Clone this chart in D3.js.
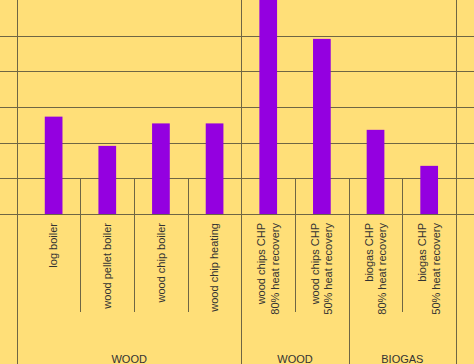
<!DOCTYPE html>
<html>
<head>
<meta charset="utf-8">
<script src="https://cdnjs.cloudflare.com/ajax/libs/d3/7.8.5/d3.min.js"></script>
<style>
  html, body { margin: 0; padding: 0; background: #ffdf78; }
  svg { display: block; }
  text { font-family: "Liberation Sans", Arial, sans-serif; fill: #333; }
</style>
</head>
<body>
<div class="chart"></div>
<script>
/* global d3 */
// category labels (each entry = lines of the rotated label)
const labels = [
  ["log boiler"],
  ["wood pellet boiler"],
  ["wood chip boiler"],
  ["wood chip heating"],
  ["wood chips CHP", "80% heat recovery"],
  ["wood chips CHP", "50% heat recovery"],
  ["biogas CHP", "80% heat recovery"],
  ["biogas CHP", "50% heat recovery"]
];
const values = [2.73, 1.91, 2.54, 2.54, 6.5, 4.91, 2.36, 1.35];
const groupNames = ["WOOD", "WOOD", "BIOGAS"];
const groupSizes = [4, 2, 2];
const yTicks = [0, 1, 2, 3, 4, 5];

const svgWidth = 474, svgHeight = 364;
const plotLeft = 17, baseY = 214;
const gridColor = "#6f6644";

const svg = d3.select(".chart").append("svg")
    .attr("width", svgWidth)
    .attr("height", svgHeight);

svg.append("rect")
    .attr("width", svgWidth).attr("height", svgHeight)
    .attr("fill", "#ffdf78");

const ids = labels.map((d, i) => i);
const x = d3.scaleBand().domain(ids).range([26.8, 456]);
const y = d3.scaleLinear().domain([0, 6]).range([baseY, 0]);

// horizontal grid lines
svg.append("g").selectAll("line")
    .data(yTicks)
    .enter().append("line")
    .attr("x1", 0).attr("x2", svgWidth)
    .attr("y1", d => Math.round(y(d)) + 0.5)
    .attr("y2", d => Math.round(y(d)) + 0.5)
    .attr("stroke", gridColor);

// bars
const barW = x.bandwidth() * 0.33;
svg.append("g").selectAll("rect")
    .data(values)
    .enter().append("rect")
    .attr("x", (d, i) => x(i) + (x.bandwidth() - barW) / 2)
    .attr("y", d => y(d))
    .attr("width", barW)
    .attr("height", d => baseY - y(d))
    .attr("fill", "#9400e0");

// group boundaries
let starts = [0];
groupSizes.forEach((n, i) => starts.push(starts[i] + n));
const edgeX = (k) => k === 0 ? plotLeft : x(k - 1) + x.bandwidth();

// category separators (inside groups)
const inner = [];
starts.slice(0, -1).forEach((s, g) => {
  for (let k = s + 1; k < s + groupSizes[g]; k++) inner.push(k);
});
svg.append("g").selectAll("line")
    .data(inner)
    .enter().append("line")
    .attr("x1", d => Math.round(x(d)) + 0.5)
    .attr("x2", d => Math.round(x(d)) + 0.5)
    .attr("y1", y(1)).attr("y2", 312)
    .attr("stroke", gridColor);

// group separators; first, middle wood boundary and last run the full height
const fullEdges = [0, 4, 8];
svg.append("g").selectAll("line")
    .data(starts)
    .enter().append("line")
    .attr("x1", d => Math.round(edgeX(d)) + 0.5)
    .attr("x2", d => Math.round(edgeX(d)) + 0.5)
    .attr("y1", d => fullEdges.includes(d) ? 0 : y(1))
    .attr("y2", svgHeight)
    .attr("stroke", gridColor);

// rotated category labels
const lab = svg.append("g").selectAll("text")
    .data(labels)
    .enter().append("text")
    .attr("text-anchor", "end")
    .attr("font-size", "11px")
    .attr("transform", (d, i) => "translate(" + (x(i) + x.bandwidth() / 2) + ",223) rotate(-90)");
lab.each(function(d) {
  const t = d3.select(this);
  d.forEach((line, j) => {
    const off = (j - (d.length - 1) / 2) * 13.5;
    t.append("tspan")
        .attr("x", 0)
        .attr("y", off)
        .attr("dy", "0.35em")
        .text(line);
  });
});

// group labels
svg.append("g").selectAll("text")
    .data(groupNames)
    .enter().append("text")
    .attr("text-anchor", "middle")
    .attr("font-size", "11px")
    .attr("x", (d, i) => (edgeX(starts[i]) + edgeX(starts[i + 1])) / 2)
    .attr("y", 363)
    .text(d => d);
</script>
</body>
</html>
